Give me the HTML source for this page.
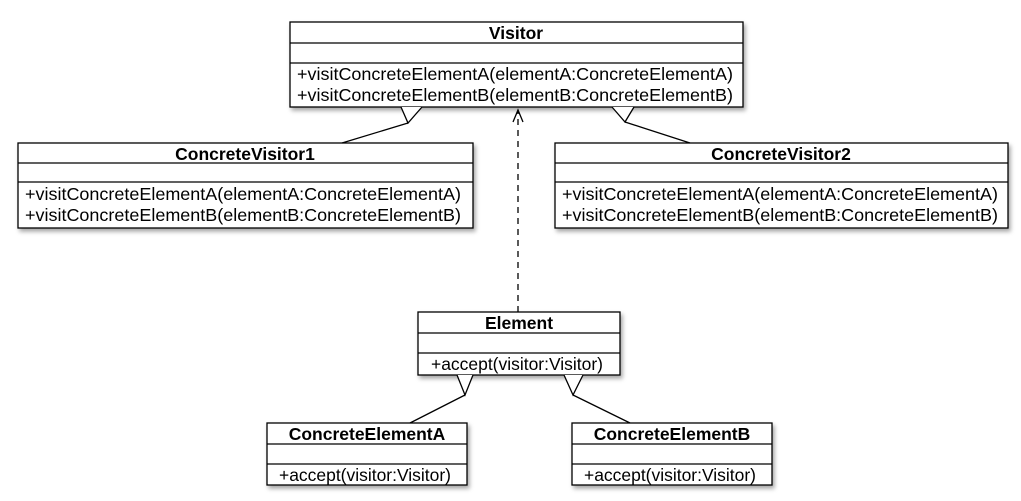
<!DOCTYPE html>
<html><head><style>
html,body{margin:0;padding:0;background:#fff;width:1021px;height:501px;overflow:hidden}
text{font-family:"Liberation Sans",Arial,sans-serif;font-size:17.5px;fill:#000}
.t{font-weight:bold;text-anchor:middle}
</style></head><body>
<svg width="1021" height="501" viewBox="0 0 1021 501" xmlns="http://www.w3.org/2000/svg">
<defs><filter id="s" x="-5%" y="-5%" width="110%" height="120%"><feDropShadow dx="2" dy="3" stdDeviation="2" flood-color="#000" flood-opacity="0.35"/></filter></defs>
<g fill="#fff" stroke="#000" stroke-width="1.3">
<rect x="290" y="22" width="453" height="85" filter="url(#s)"/>
<rect x="18" y="143" width="455" height="85" filter="url(#s)"/>
<rect x="555" y="143" width="453" height="85" filter="url(#s)"/>
<rect x="418" y="312" width="202" height="63" filter="url(#s)"/>
<rect x="267" y="423" width="200" height="62" filter="url(#s)"/>
<rect x="572" y="423" width="200" height="62" filter="url(#s)"/>
<path d="M290 43H743M290 63H743M18 163H473M18 182H473M555 163H1008M555 182H1008M418 333H620M418 353H620M267 444H467M267 464H467M572 444H772M572 464H772"/>
</g>
<g stroke="#000" stroke-width="1.3" fill="#fff">
<path d="M408 123L342 143M625 122L690 143M465 395L410 423M573 395L630 423"/>
<path d="M401 107L408 123L422 107"/>
<path d="M612 107L625 122L634 107"/>
<path d="M457 375L465 395L473 375"/>
<path d="M564 375L573 395L583 375"/>
<path d="M518 312V112" stroke-dasharray="6,5" fill="none"/>
<path d="M513 122L518 110L523 122" fill="none"/>
</g>
<text class="t" x="516" y="39">Visitor</text>
<text x="297" y="80" textLength="436" lengthAdjust="spacingAndGlyphs">+visitConcreteElementA(elementA:ConcreteElementA)</text>
<text x="297" y="101" textLength="436" lengthAdjust="spacingAndGlyphs">+visitConcreteElementB(elementB:ConcreteElementB)</text>
<text class="t" x="245" y="160">ConcreteVisitor1</text>
<text x="25" y="200" textLength="436" lengthAdjust="spacingAndGlyphs">+visitConcreteElementA(elementA:ConcreteElementA)</text>
<text x="25" y="221" textLength="436" lengthAdjust="spacingAndGlyphs">+visitConcreteElementB(elementB:ConcreteElementB)</text>
<text class="t" x="781" y="160">ConcreteVisitor2</text>
<text x="562" y="200" textLength="436" lengthAdjust="spacingAndGlyphs">+visitConcreteElementA(elementA:ConcreteElementA)</text>
<text x="562" y="221" textLength="436" lengthAdjust="spacingAndGlyphs">+visitConcreteElementB(elementB:ConcreteElementB)</text>
<text class="t" x="519" y="329">Element</text>
<text x="431" y="370" textLength="172" lengthAdjust="spacingAndGlyphs">+accept(visitor:Visitor)</text>
<text class="t" x="367" y="440">ConcreteElementA</text>
<text x="279" y="481" textLength="172" lengthAdjust="spacingAndGlyphs">+accept(visitor:Visitor)</text>
<text class="t" x="672" y="440">ConcreteElementB</text>
<text x="584" y="481" textLength="172" lengthAdjust="spacingAndGlyphs">+accept(visitor:Visitor)</text>
</svg>
</body></html>
